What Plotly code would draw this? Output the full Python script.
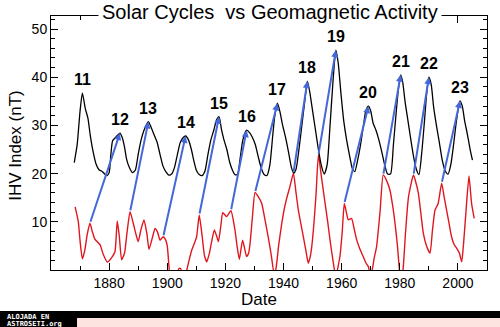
import plotly.graph_objects as go

# IHV geomagnetic index (nT), smoothed
ihv_year = [1868.0, 1869.0, 1870.0, 1870.8, 1871.8, 1872.7, 1873.5, 1874.5, 1875.5, 1876.5,
            1877.5, 1878.5, 1879.3, 1880.0, 1880.6, 1881.2, 1882.2, 1883.0, 1883.7, 1884.5,
            1885.3, 1886.0, 1887.0, 1888.0, 1889.0, 1890.0, 1891.0, 1892.0, 1893.5, 1894.5,
            1895.5, 1896.5, 1897.5, 1898.5, 1899.5, 1900.5, 1901.5, 1902.5, 1903.5, 1904.5,
            1905.5, 1906.3, 1907.3, 1908.3, 1909.2, 1910.0, 1911.0, 1912.0, 1913.0, 1914.0,
            1915.0, 1916.0, 1917.0, 1917.8, 1918.7, 1919.5, 1920.5, 1921.5, 1922.5, 1923.3,
            1924.2, 1925.0, 1926.0, 1927.3, 1928.3, 1929.3, 1930.3, 1931.3, 1932.3, 1933.3,
            1934.3, 1935.3, 1936.3, 1937.0, 1937.9, 1938.7, 1939.7, 1940.7, 1941.7, 1942.7,
            1943.5, 1944.3, 1945.3, 1946.3, 1947.3, 1948.2, 1949.0, 1950.0, 1951.0, 1952.0,
            1953.0, 1954.0, 1955.0, 1956.0, 1957.0, 1958.0, 1958.8, 1959.7, 1960.7, 1961.7,
            1962.7, 1963.7, 1964.5, 1965.5, 1966.5, 1967.5, 1968.3, 1969.2, 1970.0, 1970.8,
            1971.8, 1972.8, 1973.8, 1974.8, 1975.8, 1976.8, 1977.8, 1978.8, 1979.6, 1980.3,
            1981.0, 1981.8, 1982.8, 1983.8, 1984.8, 1985.8, 1986.6, 1987.5, 1988.5, 1989.3,
            1990.0, 1990.8, 1991.6, 1992.6, 1993.6, 1994.6, 1995.6, 1996.6, 1997.5, 1998.5,
            1999.5, 2000.7, 2001.5, 2002.3, 2003.3, 2004.2, 2005.0]
ihv_value = [22.3, 26.0, 33.0, 36.7, 33.5, 31.5, 28.0, 24.5, 22.0, 20.8,
             20.5, 19.9, 19.6, 20.2, 24.0, 26.8, 27.5, 28.0, 28.4, 27.5,
             25.5, 23.0, 21.2, 20.2, 20.7, 24.0, 27.0, 29.0, 30.8, 29.5,
             28.0, 26.5, 24.0, 21.6, 20.4, 19.7, 19.9, 21.3, 24.0, 26.5,
             27.5, 27.8, 27.0, 25.0, 22.5, 20.7, 19.8, 19.6, 20.6, 24.0,
             27.0, 29.0, 31.2, 31.8, 29.0, 27.0, 25.0, 22.3, 20.6, 19.8,
             19.9, 22.8, 27.0, 29.0, 28.5, 27.5, 26.0, 23.5, 21.2, 19.8,
             19.6, 21.8, 28.0, 32.0, 34.6, 33.0, 30.0, 27.5, 24.5, 21.3,
             20.1, 20.9, 25.0, 30.0, 35.0, 39.2, 37.0, 33.0, 29.0, 25.0,
             21.7, 19.9, 21.8, 30.0, 39.0, 45.6, 43.0, 37.0, 31.0, 27.0,
             23.8, 21.0, 20.4, 22.8, 26.0, 30.0, 33.0, 34.0, 33.0, 30.5,
             29.0, 27.0, 24.5, 21.8, 19.9, 19.9, 26.0, 33.0, 38.0, 40.5,
             39.0, 35.0, 31.0, 27.0, 23.3, 20.7, 19.8, 24.0, 31.0, 37.0,
             40.0, 38.5, 34.0, 30.0, 26.5, 22.8, 20.6, 19.9, 21.7, 26.0,
             31.0, 35.1, 34.0, 31.0, 28.0, 25.0, 22.8]

# Lower (residual) component
low_year = [1868.3, 1869.4, 1870.0, 1870.8, 1871.6, 1872.5, 1873.4, 1874.2, 1875.1, 1876.0,
            1876.9, 1878.0, 1879.4, 1880.8, 1882.0, 1882.8, 1883.5, 1884.3, 1885.3, 1886.2,
            1887.2, 1888.3, 1889.2, 1890.0, 1891.0, 1892.0, 1893.0, 1893.7, 1894.8, 1895.8,
            1896.7, 1897.5, 1898.6, 1899.4, 1900.0, 1900.7, 1901.5, 1902.5, 1903.4, 1904.0,
            1904.6, 1905.3, 1906.0, 1906.7, 1907.5, 1908.4, 1909.3, 1910.1, 1911.0, 1912.0,
            1912.8, 1913.6, 1914.5, 1915.3, 1916.2, 1917.0, 1917.6, 1918.4, 1919.1, 1920.4,
            1921.9, 1923.3, 1924.0, 1924.8, 1925.9, 1926.6, 1927.3, 1928.0, 1928.5, 1929.3,
            1930.2, 1931.3, 1932.5, 1933.6, 1934.8, 1935.8, 1936.7, 1937.3, 1938.3, 1939.4,
            1940.2, 1941.1, 1942.2, 1943.4, 1944.2, 1945.1, 1946.0, 1946.8, 1947.7, 1948.5,
            1949.1, 1949.7, 1950.5, 1951.2, 1952.0, 1953.0, 1954.3, 1955.2, 1956.0, 1957.0,
            1958.0, 1958.7, 1959.4, 1960.2, 1960.9, 1961.6, 1962.3, 1963.4, 1964.3, 1965.2,
            1966.3, 1967.4, 1968.3, 1969.2, 1969.8, 1970.5, 1971.2, 1972.0, 1973.2, 1974.3,
            1975.5, 1976.6, 1977.5, 1978.3, 1979.2, 1980.0, 1980.6, 1981.1, 1982.0, 1983.0,
            1984.7, 1985.6, 1986.4, 1987.3, 1988.1, 1989.2, 1990.4, 1991.2, 1992.1, 1993.2,
            1994.4, 1995.3, 1996.1, 1997.0, 1997.8, 1998.7, 1999.6, 2000.5, 2001.3, 2002.0,
            2002.8, 2003.8, 2004.7, 2005.6]
low_value = [13.1, 10.0, 6.0, 2.3, 4.0, 7.5, 9.7, 8.0, 6.4, 5.8,
             5.2, 3.2, 1.6, 2.5, 3.8, 10.2, 7.0, 2.1, 3.5, 8.0,
             12.1, 9.7, 7.5, 5.9, 8.5, 10.4, 7.5, 4.3, 6.5, 8.6,
             7.8, 6.2, 6.9, 6.3, 5.0, 0.0, -3.0, -4.0, -1.0, 0.3,
             0.3, -2.0, -1.0, 0.0, 2.0, 4.1, 5.5, 6.9, 11.4, 7.0,
             3.0, 1.7, 3.5, 6.0, 8.3, 7.0, 5.9, 9.0, 11.9, 11.1,
             12.3, 8.3, 5.0, 2.2, 6.2, 4.5, 2.8, 3.5, 5.6, 11.0,
             16.1, 15.2, 13.8, 10.5, 6.6, 3.0, -0.5, 0.0, 5.0, 9.7,
             12.5, 14.9, 17.3, 20.1, 16.5, 12.4, 9.5, 6.9, 4.0, 1.4,
             2.5, 4.8, 10.0, 15.9, 23.9, 19.5, 13.8, 10.0, 6.2, 2.0,
             -1.5, 0.5, 2.8, 8.0, 13.8, 12.0, 10.4, 10.7, 8.5, 6.2,
             4.3, 2.8, 1.5, 0.7, -1.0, 0.0, 2.5, 4.8, 12.0, 19.7,
             18.5, 16.6, 13.5, 10.0, 5.0, -0.5, -1.5, 0.0, 8.0, 15.2,
             19.7, 18.0, 15.9, 11.5, 7.6, 5.0, 3.5, 8.0, 12.4, 13.8,
             18.0, 15.0, 12.4, 9.5, 6.9, 5.3, 4.5, 3.5, 1.7, 6.0,
             12.4, 19.5, 13.8, 10.7]

# Solar cycles: number, maximum of the IHV curve, and the preceding low-curve point
cycle_num = ["11", "12", "13", "14", "15", "16", "17", "18", "19", "20", "21", "22", "23"]
peak_year = [1870.8, 1883.7, 1893.5, 1906.3, 1917.8, 1927.3, 1937.9, 1948.2, 1958.0, 1969.2, 1980.3, 1990.0, 2000.7]
peak_value = [36.7, 28.4, 30.8, 27.8, 31.8, 29.0, 34.6, 39.2, 45.6, 34.0, 40.5, 40.0, 35.1]
start_year = [None, 1873.4, 1887.2, 1898.6, 1911.0, 1921.9, 1930.2, 1943.4, 1952.0, 1960.9, 1974.3, 1984.7, 1994.4]
start_value = [None, 9.7, 12.1, 6.9, 11.4, 12.3, 16.1, 20.1, 23.9, 13.8, 19.7, 19.7, 18.0]

x_ticks = [1880, 1900, 1920, 1940, 1960, 1980, 2000]
y_ticks = [10, 20, 30, 40, 50]

FONT = "Liberation Sans, Arial, sans-serif"
BLUE = "#4468d8"

fig = go.Figure()
fig.add_trace(go.Scatter(x=low_year, y=low_value, mode="lines",
                         line=dict(color="#e0161e", width=1.4, shape="spline", smoothing=0.5),
                         hoverinfo="skip"))
fig.add_trace(go.Scatter(x=ihv_year, y=ihv_value, mode="lines",
                         line=dict(color="black", width=1.3, shape="spline", smoothing=0.6),
                         hoverinfo="skip"))

annotations = []
for n, px_, pv, sx, sv in zip(cycle_num, peak_year, peak_value, start_year, start_value):
    if sx is not None:
        annotations.append(dict(x=px_, y=pv, ax=sx, ay=sv, xref="x", yref="y", axref="x", ayref="y",
                                text="", showarrow=True, arrowhead=2, arrowsize=0.7,
                                arrowwidth=2.0, arrowcolor=BLUE, standoff=0, startstandoff=0))
    annotations.append(dict(x=px_, y=pv + 2.8, xref="x", yref="y", text="<b>%s</b>" % n,
                            showarrow=False, yanchor="middle",
                            font=dict(family=FONT, size=16, color="black")))

# title sits on the top frame line, covering it
annotations.append(dict(x=0.502, y=1.016, xref="paper", yref="paper",
                        text="Solar Cycles&nbsp; vs Geomagnetic Activity", showarrow=False,
                        font=dict(family=FONT, size=20, color="black"), bgcolor="white",
                        borderpad=3, xanchor="center", yanchor="middle"))
annotations.append(dict(x=-0.083, y=0.492, xref="paper", yref="paper", text="IHV Index (nT)",
                        textangle=-90, showarrow=False, xanchor="center", yanchor="middle",
                        font=dict(family=FONT, size=17, color="black")))
annotations.append(dict(x=0.477, y=-0.118, xref="paper", yref="paper", text="Date",
                        showarrow=False, xanchor="center", yanchor="middle",
                        font=dict(family=FONT, size=17, color="black")))
# hosting banner along the bottom edge
annotations.append(dict(x=-0.105, y=-0.161, xref="paper", yref="paper", text="<b>ALOJADA EN</b>",
                        showarrow=False, xanchor="left", yanchor="top",
                        font=dict(family="DejaVu Sans Mono", size=7, color="white")))
annotations.append(dict(x=-0.105, y=-0.190, xref="paper", yref="paper", text="<b>ASTROSETI.org</b>",
                        showarrow=False, xanchor="left", yanchor="top",
                        font=dict(family="DejaVu Sans Mono", size=7, color="white")))

shapes = [
    dict(type="rect", xref="paper", yref="paper", x0=-0.12, x1=1.04, y0=-0.161, y1=-0.190,
         fillcolor="black", line=dict(width=0), layer="below"),
    dict(type="rect", xref="paper", yref="paper", x0=-0.12, x1=0.060, y0=-0.161, y1=-0.23,
         fillcolor="black", line=dict(width=0), layer="below"),
    dict(type="rect", xref="paper", yref="paper", x0=0.060, x1=1.04, y0=-0.189, y1=-0.23,
         fillcolor="#fde4e0", line=dict(width=0), layer="below"),
]

axis_common = dict(showline=True, linecolor="black", linewidth=1, mirror="ticks",
                   ticks="inside", tickcolor="black", showgrid=False, zeroline=False,
                   tickfont=dict(family=FONT, size=14, color="black"))

fig.update_layout(
    width=500, height=327, autosize=False,
    margin=dict(l=51, r=13, t=16, b=57),
    paper_bgcolor="white", plot_bgcolor="white",
    showlegend=False,
    xaxis=dict(range=[1860, 2010], tickvals=x_ticks, ticklen=7,
               minor=dict(dtick=10, tick0=1860, ticks="inside", ticklen=4, tickcolor="black"),
               **axis_common),
    yaxis=dict(range=[0, 52.7], tickvals=y_ticks, ticklen=7,
               minor=dict(dtick=2, tick0=0, ticks="inside", ticklen=4, tickcolor="black"),
               **axis_common),
    annotations=annotations,
    shapes=shapes,
)

fig.write_html("out.html")
